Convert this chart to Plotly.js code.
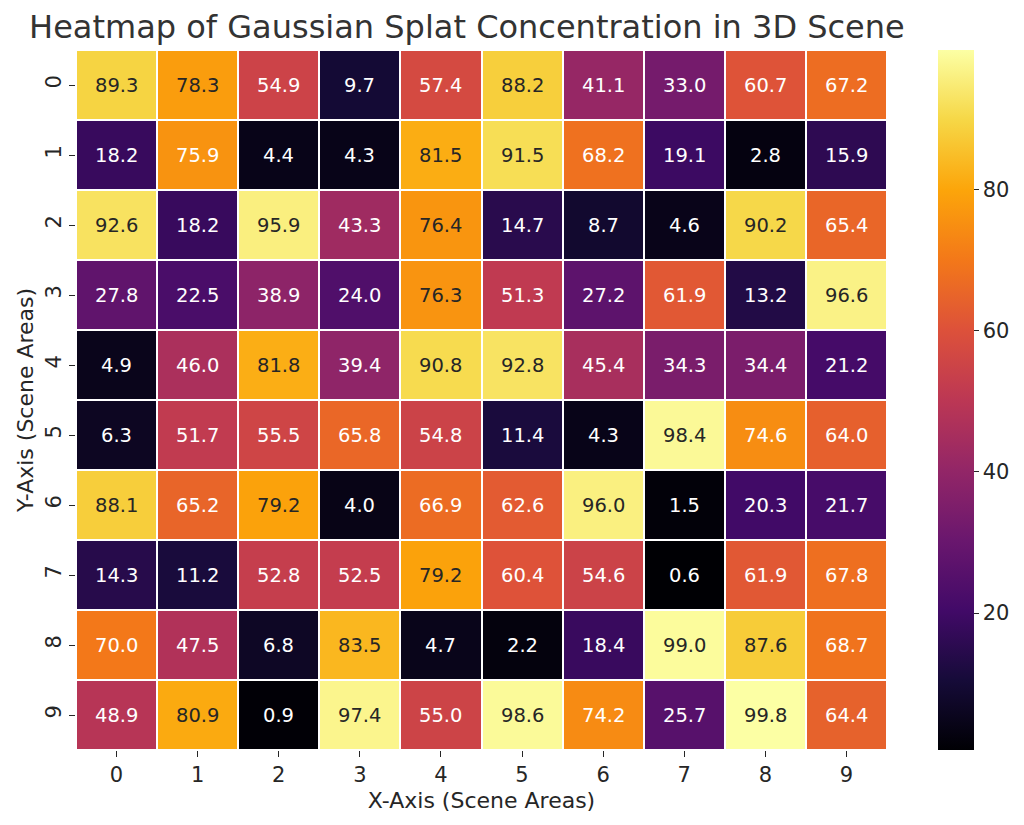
<!DOCTYPE html>
<html>
<head>
<meta charset="utf-8">
<script src="https://cdn.plot.ly/plotly-3.0.1.min.js"></script>
<style>
  html, body { margin: 0; padding: 0; background: #fff; }
  #chart { width: 1024px; height: 825px; }
</style>
</head>
<body>
<div id="chart"></div>
<script>
// grid labels
const xLabels = [0, 1, 2, 3, 4, 5, 6, 7, 8, 9];
const yLabels = [0, 1, 2, 3, 4, 5, 6, 7, 8, 9];

// concentration values, one row per y label (0 at top)
const row0 = [89.3, 78.3, 54.9, 9.7, 57.4, 88.2, 41.1, 33.0, 60.7, 67.2];
const row1 = [18.2, 75.9, 4.4, 4.3, 81.5, 91.5, 68.2, 19.1, 2.8, 15.9];
const row2 = [92.6, 18.2, 95.9, 43.3, 76.4, 14.7, 8.7, 4.6, 90.2, 65.4];
const row3 = [27.8, 22.5, 38.9, 24.0, 76.3, 51.3, 27.2, 61.9, 13.2, 96.6];
const row4 = [4.9, 46.0, 81.8, 39.4, 90.8, 92.8, 45.4, 34.3, 34.4, 21.2];
const row5 = [6.3, 51.7, 55.5, 65.8, 54.8, 11.4, 4.3, 98.4, 74.6, 64.0];
const row6 = [88.1, 65.2, 79.2, 4.0, 66.9, 62.6, 96.0, 1.5, 20.3, 21.7];
const row7 = [14.3, 11.2, 52.8, 52.5, 79.2, 60.4, 54.6, 0.6, 61.9, 67.8];
const row8 = [70.0, 47.5, 6.8, 83.5, 4.7, 2.2, 18.4, 99.0, 87.6, 68.7];
const row9 = [48.9, 80.9, 0.9, 97.4, 55.0, 98.6, 74.2, 25.7, 99.8, 64.4];
const zValues = [row0, row1, row2, row3, row4, row5, row6, row7, row8, row9];

const colorbarTicks = [20, 40, 60, 80];

// inferno colormap stops
const inferno = [
    [0.0, "#000004"], [0.1, "#160b39"], [0.2, "#420a68"], [0.3, "#6a176e"],
    [0.4, "#932667"], [0.5, "#bc3754"], [0.6, "#dd513a"], [0.7, "#f37819"],
    [0.8, "#fca50a"], [0.9, "#f6d746"], [1.0, "#fcffa4"]
];

const allValues = zValues.flat();
const zmin = Math.min(...allValues);
const zmax = Math.max(...allValues);

function hexToRgb(h) {
    return [parseInt(h.slice(1, 3), 16), parseInt(h.slice(3, 5), 16), parseInt(h.slice(5, 7), 16)];
}

function colorAt(v) {
    const t = (v - zmin) / (zmax - zmin);
    for (let i = 1; i < inferno.length; i++) {
        if (t <= inferno[i][0]) {
            const a = inferno[i - 1], b = inferno[i];
            const f = (t - a[0]) / (b[0] - a[0]);
            const ca = hexToRgb(a[1]), cb = hexToRgb(b[1]);
            return ca.map((c, k) => c + (cb[k] - c) * f);
        }
    }
    return hexToRgb(inferno[inferno.length - 1][1]);
}

// same rule as seaborn: dark text on light cells
function textColor(v) {
    const lin = colorAt(v).map(c => {
        c = c / 255;
        return c <= 0.03928 ? c / 12.92 : Math.pow((c + 0.055) / 1.055, 2.4);
    });
    const lum = 0.2126 * lin[0] + 0.7152 * lin[1] + 0.0722 * lin[2];
    return lum > 0.408 ? "#262626" : "#ffffff";
}

const annotations = [];
yLabels.forEach((yv, i) => {
    xLabels.forEach((xv, j) => {
        const v = zValues[i][j];
        annotations.push({
            x: xv, y: yv, xref: "x", yref: "y",
            text: v.toFixed(1),
            showarrow: false,
            font: { family: "DejaVu Sans", size: 19.5, color: textColor(v) }
        });
    });
});

const trace = {
    type: "heatmap",
    x: xLabels,
    y: yLabels,
    z: zValues,
    zmin: zmin,
    zmax: zmax,
    colorscale: inferno,
    xgap: 2,
    ygap: 2,
    hoverinfo: "x+y+z",
    colorbar: {
        x: 1.063,
        xanchor: "left",
        xpad: 0,
        y: 0.5,
        len: 1,
        ypad: 0,
        thickness: 36,
        outlinewidth: 0,
        tickvals: colorbarTicks,
        ticks: "outside",
        ticklen: 5,
        tickwidth: 1,
        tickcolor: "#262626",
        tickfont: { family: "DejaVu Sans", size: 21, color: "#262626" }
    }
};

const layout = {
    width: 1024,
    height: 825,
    paper_bgcolor: "#ffffff",
    plot_bgcolor: "#ffffff",
    margin: { l: 76, r: 137, t: 50, b: 75, pad: 0 },
    font: { family: "DejaVu Sans", color: "#262626" },
    title: {
        text: "Heatmap of Gaussian Splat Concentration in 3D Scene",
        font: { family: "DejaVu Sans", size: 32, color: "#333333" },
        x: 0.456,
        xanchor: "center",
        y: 0.968,
        yanchor: "middle"
    },
    xaxis: {
        tickvals: xLabels,
        ticktext: xLabels.map(String),
        ticks: "outside",
        ticklen: 6,
        tickcolor: "#262626",
        tickfont: { size: 21 },
        showgrid: false,
        zeroline: false,
        title: { text: "X-Axis (Scene Areas)", font: { size: 22 }, standoff: 6 }
    },
    yaxis: {
        tickvals: yLabels,
        ticktext: yLabels.map(String),
        autorange: "reversed",
        ticks: "outside",
        ticklen: 6,
        tickcolor: "#262626",
        tickangle: -90,
        tickfont: { size: 21 },
        showgrid: false,
        zeroline: false,
        title: { text: "Y-Axis (Scene Areas)", font: { size: 22 }, standoff: 1 }
    },
    annotations: annotations
};

Plotly.newPlot("chart", [trace], layout, { displayModeBar: false });
</script>
</body>
</html>
